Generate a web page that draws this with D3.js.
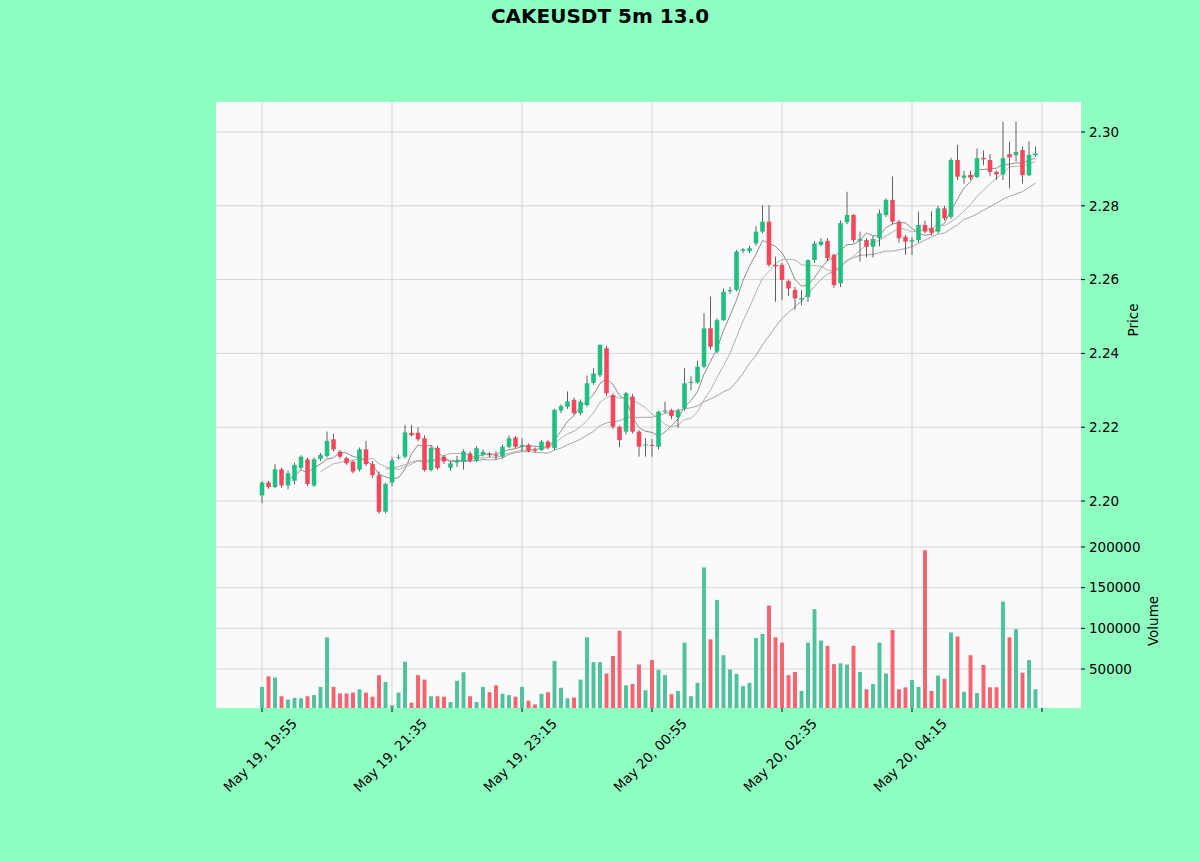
<!DOCTYPE html>
<html>
<head>
<meta charset="utf-8">
<script src="https://cdn.jsdelivr.net/npm/d3@7/dist/d3.min.js"></script>
<style>
  body { margin: 0; background: #8fffc1; }
  svg { display: block; font-family: "DejaVu Sans", sans-serif; }
</style>
</head>
<body>
<div id="chart"></div>
<script>
// 5 minute candles, May 19 19:55 onwards
var opens = [2.2015,2.2050,2.2038,2.2086,2.2042,2.2055,2.2090,2.2113,2.2042,2.2114,
  2.2122,2.2167,2.2134,2.2116,2.2107,2.2085,2.2140,2.2100,2.2070,2.1971,
  2.2050,2.2118,2.2120,2.2185,2.2185,2.2170,2.2084,2.2144,2.2120,2.2090,
  2.2104,2.2106,2.2129,2.2109,2.2125,2.2127,2.2124,2.2120,2.2147,2.2172,
  2.2148,2.2152,2.2140,2.2138,2.2161,2.2143,2.2245,2.2255,2.2274,2.2238,
  2.2260,2.2320,2.2341,2.2414,2.2287,2.2201,2.2188,2.2283,2.2188,2.2150,
  2.2152,2.2147,2.2242,2.2246,2.2227,2.2251,2.2320,2.2321,2.2364,2.2468,
  2.2405,2.2490,2.2568,2.2572,2.2678,2.2677,2.2698,2.2730,2.2757,2.2640,
  2.2640,2.2596,2.2572,2.2546,2.2553,2.2653,2.2694,2.2705,2.2667,2.2590,
  2.2755,2.2775,2.2705,2.2707,2.2689,2.2712,2.2775,2.2816,2.2757,2.2716,
  2.2703,2.2707,2.2748,2.2740,2.2730,2.2793,2.2770,2.2924,2.2876,2.2884,
  2.2878,2.2930,2.2924,2.2892,2.2885,2.2940,2.2937,2.2951,2.2883,2.2937];
var highs = [2.2054,2.2055,2.2100,2.2090,2.2082,2.2104,2.2124,2.2118,2.2118,2.2130,
  2.2188,2.2182,2.2138,2.2120,2.2110,2.2145,2.2163,2.2108,2.2080,2.2050,
  2.2118,2.2125,2.2206,2.2206,2.2200,2.2178,2.2150,2.2150,2.2125,2.2108,
  2.2122,2.2140,2.2135,2.2148,2.2140,2.2132,2.2135,2.2152,2.2178,2.2176,
  2.2170,2.2156,2.2145,2.2165,2.2165,2.2250,2.2262,2.2297,2.2280,2.2275,
  2.2340,2.2360,2.2425,2.2420,2.2292,2.2205,2.2296,2.2290,2.2192,2.2170,
  2.2168,2.2245,2.2269,2.2250,2.2250,2.2360,2.2338,2.2380,2.2509,2.2554,
  2.2495,2.2576,2.2580,2.2680,2.2686,2.2692,2.2745,2.2802,2.2802,2.2662,
  2.2645,2.2600,2.2580,2.2572,2.2655,2.2705,2.2712,2.2712,2.2670,2.2760,
  2.2838,2.2778,2.2730,2.2712,2.2718,2.2790,2.2820,2.2879,2.2762,2.2722,
  2.2715,2.2784,2.2760,2.2785,2.2800,2.2800,2.2930,2.2965,2.2895,2.2895,
  2.2955,2.2950,2.2940,2.2895,2.3028,2.2974,2.3028,2.2960,2.2975,2.2960];
var lows = [2.1995,2.2033,2.2035,2.2036,2.2032,2.2045,2.2085,2.2040,2.2038,2.2108,
  2.2118,2.2135,2.2115,2.2098,2.2075,2.2080,2.2095,2.2062,2.1965,2.1966,
  2.2040,2.2112,2.2115,2.2175,2.2162,2.2080,2.2080,2.2085,2.2100,2.2082,
  2.2092,2.2085,2.2105,2.2105,2.2120,2.2118,2.2112,2.2115,2.2143,2.2143,
  2.2135,2.2132,2.2132,2.2135,2.2140,2.2138,2.2238,2.2250,2.2233,2.2232,
  2.2255,2.2315,2.2335,2.2285,2.2195,2.2146,2.2180,2.2183,2.2120,2.2120,
  2.2120,2.2140,2.2238,2.2222,2.2198,2.2245,2.2300,2.2318,2.2360,2.2410,
  2.2400,2.2488,2.2562,2.2568,2.2672,2.2672,2.2692,2.2725,2.2635,2.2540,
  2.2545,2.2555,2.2518,2.2530,2.2540,2.2645,2.2690,2.2650,2.2578,2.2580,
  2.2750,2.2700,2.2649,2.2660,2.2660,2.2690,2.2770,2.2750,2.2700,2.2667,
  2.2667,2.2700,2.2725,2.2720,2.2725,2.2760,2.2765,2.2870,2.2860,2.2870,
  2.2875,2.2910,2.2880,2.2870,2.2870,2.2847,2.2920,2.2860,2.2880,2.2932];
var closes = [2.2050,2.2038,2.2086,2.2042,2.2075,2.2098,2.2120,2.2046,2.2113,2.2125,
  2.2163,2.2140,2.2120,2.2102,2.2080,2.2140,2.2100,2.2070,2.1971,2.2046,
  2.2110,2.2119,2.2186,2.2178,2.2167,2.2084,2.2144,2.2089,2.2107,2.2102,
  2.2110,2.2134,2.2109,2.2143,2.2133,2.2124,2.2121,2.2147,2.2170,2.2147,
  2.2152,2.2136,2.2136,2.2161,2.2145,2.2247,2.2257,2.2270,2.2238,2.2269,
  2.2319,2.2346,2.2423,2.2292,2.2201,2.2165,2.2292,2.2188,2.2147,2.2153,
  2.2149,2.2242,2.2245,2.2230,2.2245,2.2319,2.2323,2.2364,2.2468,2.2418,
  2.2490,2.2567,2.2572,2.2676,2.2682,2.2685,2.2730,2.2757,2.2640,2.2636,
  2.2599,2.2576,2.2549,2.2550,2.2653,2.2698,2.2703,2.2658,2.2585,2.2753,
  2.2775,2.2707,2.2710,2.2689,2.2710,2.2780,2.2816,2.2757,2.2712,2.2703,
  2.2707,2.2748,2.2730,2.2727,2.2793,2.2766,2.2924,2.2879,2.2882,2.2876,
  2.2929,2.2926,2.2892,2.2885,2.2929,2.2931,2.2946,2.2883,2.2938,2.2942];
var volumes = [28000,41000,39500,16500,12500,14500,14000,16500,18000,28000,
  89000,28000,20000,20000,21000,25000,21000,16000,42500,34000,
  5500,21000,59000,8500,42500,37000,16500,16500,16000,9500,
  35500,46000,16500,9500,28000,21500,30000,19500,18000,16000,
  28000,11000,6500,19500,21500,60000,27000,14000,15000,37000,
  89000,58500,58500,44500,66000,97000,30000,31500,55500,24000,
  61000,49000,42500,19000,23000,82500,16500,33000,175000,86500,
  135000,67000,49500,44000,29000,33000,88000,93000,128000,89000,
  82500,42500,46500,23000,82500,123500,85000,78500,56000,57000,
  55500,78500,46500,25000,31500,82500,44500,98000,25000,27500,
  36500,28000,196000,23000,42000,38000,95000,90000,22000,67000,
  20500,55000,27500,27500,133000,89000,99000,45500,61000,25000];

var mavWindows = [5, 10, 20];
var mavColors = ["#8e8e8e", "#b2b2b2", "#a6a6a6"];

var xTickIdx = [0, 20, 40, 60, 80, 100, 120];
var xTickLabels = ["May 19, 19:55", "May 19, 21:35", "May 19, 23:15",
  "May 20, 00:55", "May 20, 02:35", "May 20, 04:15", ""];
var priceTicks = [2.20, 2.22, 2.24, 2.26, 2.28, 2.30];
var volTicks = [50000, 100000, 150000, 200000];

var title = "CAKEUSDT 5m 13.0";

//Width and height
var w = 1200;
var h = 862;
var left = 216, right = 1081;
var priceTop = 102, priceBottom = 534;
var volTop = 534, volBottom = 708;
var upColor = "#1fbf82";
var downColor = "#f4475b";
var upVol = "#4cc39a";
var downVol = "#f7626f";

var svg = d3.select("#chart")
  .append("svg")
  .attr("width", w)
  .attr("height", h);

svg.append("rect").attr("width", w).attr("height", h).attr("fill", "#8fffc1");

var x = d3.scaleLinear().domain([-7.08, 126]).range([left, right]);
var y = d3.scaleLinear().domain([2.20, 2.30]).range([501, 132]);
var yv = d3.scaleLinear().domain([0, 200000]).range([709.7, 547]);

// panel backgrounds
svg.append("rect").attr("x", left).attr("y", priceTop)
  .attr("width", right - left).attr("height", volBottom - priceTop)
  .attr("fill", "#fafafa");

// grid
var grid = svg.append("g").attr("stroke", "#d6d6d6").attr("stroke-width", 1);
grid.selectAll(".vg").data(xTickIdx).enter().append("line")
  .attr("x1", function(d) { return x(d); }).attr("x2", function(d) { return x(d); })
  .attr("y1", priceTop).attr("y2", volBottom);
grid.selectAll(".pg").data(priceTicks).enter().append("line")
  .attr("x1", left).attr("x2", right)
  .attr("y1", function(d) { return y(d); }).attr("y2", function(d) { return y(d); });
grid.selectAll(".volg").data(volTicks).enter().append("line")
  .attr("x1", left).attr("x2", right)
  .attr("y1", function(d) { return yv(d); }).attr("y2", function(d) { return yv(d); });

var candles = d3.range(closes.length);
var step = x(1) - x(0);

// volume bars
svg.append("g").selectAll("rect")
  .data(candles)
  .enter()
  .append("rect")
  .attr("x", function(i) { return x(i) - step * 0.3; })
  .attr("width", step * 0.6)
  .attr("y", function(i) { return yv(volumes[i]); })
  .attr("height", function(i) { return volBottom - yv(volumes[i]); })
  .attr("fill", function(i) { return closes[i] >= opens[i] ? upVol : downVol; });

// moving averages
mavWindows.forEach(function(win, k) {
  var pts = [];
  for (var i = win - 1; i < closes.length; i++) {
    pts.push([i, d3.mean(closes.slice(i - win + 1, i + 1))]);
  }
  svg.append("path")
    .datum(pts)
    .attr("fill", "none")
    .attr("stroke", mavColors[k])
    .attr("stroke-width", 1)
    .attr("d", d3.line().x(function(d) { return x(d[0]); }).y(function(d) { return y(d[1]); }));
});

// wicks
svg.append("g").selectAll("line")
  .data(candles)
  .enter()
  .append("line")
  .attr("x1", function(i) { return x(i); })
  .attr("x2", function(i) { return x(i); })
  .attr("y1", function(i) { return y(highs[i]); })
  .attr("y2", function(i) { return y(lows[i]); })
  .attr("stroke", "#3a3a3a")
  .attr("stroke-width", 0.8);

// bodies
svg.append("g").selectAll("rect")
  .data(candles)
  .enter()
  .append("rect")
  .attr("x", function(i) { return x(i) - step * 0.35; })
  .attr("width", step * 0.7)
  .attr("y", function(i) { return y(Math.max(opens[i], closes[i])); })
  .attr("height", function(i) {
    return Math.max(1, Math.abs(y(opens[i]) - y(closes[i])));
  })
  .attr("fill", function(i) {
    if (closes[i] >= opens[i]) { return upColor; }
    else { return downColor; }
  });

// right axes
var fs = 13.5;
var ax = svg.append("g").attr("font-size", fs).attr("fill", "#000");
priceTicks.forEach(function(t) {
  ax.append("line").attr("x1", right).attr("x2", right + 4)
    .attr("y1", y(t)).attr("y2", y(t)).attr("stroke", "#000");
  ax.append("text").attr("x", right + 8).attr("y", y(t))
    .attr("dy", "0.35em").text(d3.format(".2f")(t));
});
volTicks.forEach(function(t) {
  ax.append("line").attr("x1", right).attr("x2", right + 4)
    .attr("y1", yv(t)).attr("y2", yv(t)).attr("stroke", "#000");
  ax.append("text").attr("x", right + 8).attr("y", yv(t))
    .attr("dy", "0.35em").text(t);
});
ax.append("text").attr("transform", "translate(1138,320) rotate(-90)")
  .attr("text-anchor", "middle").text("Price");
ax.append("text").attr("transform", "translate(1158,621) rotate(-90)")
  .attr("text-anchor", "middle").text("Volume");

// x axis ticks and rotated labels
xTickIdx.forEach(function(t, k) {
  ax.append("line").attr("x1", x(t)).attr("x2", x(t))
    .attr("y1", volBottom).attr("y2", volBottom + 4).attr("stroke", "#000");
  if (xTickLabels[k] === "") return;
  var lab = ax.append("text").attr("text-anchor", "middle")
    .attr("dominant-baseline", "central").text(xTickLabels[k]);
  var len = lab.node().getComputedTextLength();
  var half = (len + fs) * Math.SQRT1_2 / 2;
  lab.attr("transform", "translate(" + (x(t) - 2) + "," + (716 + half) + ") rotate(-45)");
});

// title
svg.append("text")
  .attr("x", 600).attr("y", 23)
  .attr("text-anchor", "middle")
  .attr("font-size", 20).attr("font-weight", "bold")
  .text(title);
</script>
</body>
</html>
